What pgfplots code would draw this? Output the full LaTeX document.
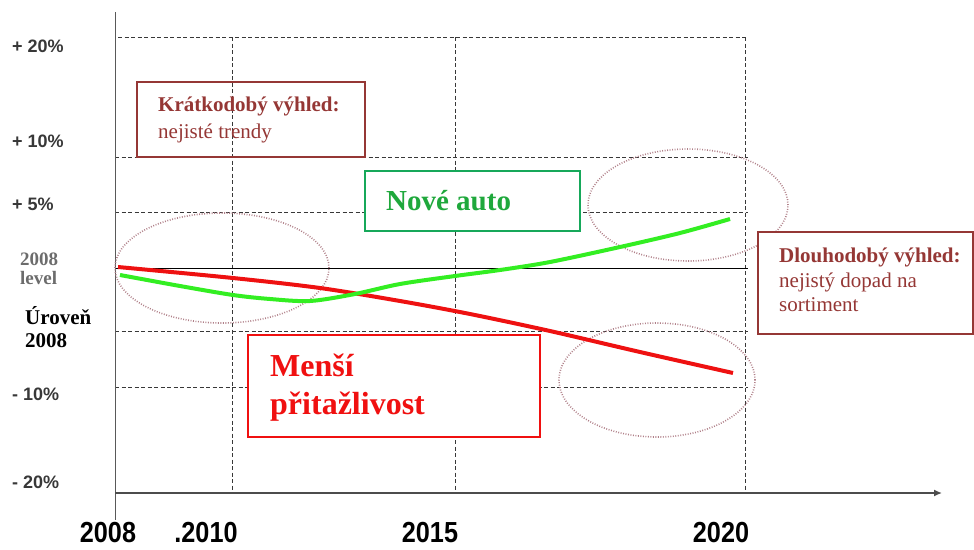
\documentclass[border=0pt]{standalone}
\usepackage{pgfplots}
\pgfplotsset{compat=1.18}
\usepackage{fontspec}
\setmainfont{Liberation Serif}
\newfontfamily\arial{Liberation Sans}
\usetikzlibrary{arrows.meta}
\definecolor{dred}{HTML}{953735}
\definecolor{gtext}{HTML}{1FA83C}
\definecolor{gbox}{HTML}{16A85A}
\definecolor{gline}{HTML}{33EE22}
\definecolor{rline}{HTML}{EE1111}
\definecolor{rtext}{HTML}{F01010}
\definecolor{ell}{HTML}{B08089}
\definecolor{grid}{HTML}{383838}
\begin{document}
\begin{tikzpicture}
\begin{axis}[scale only axis, width=974pt, height=549pt,
  xmin=0, xmax=974, ymin=0, ymax=549, y dir=reverse,
  axis lines=none, ticks=none, clip=false]
\coordinate (bl) at (axis cs:0,549);
\coordinate (tr) at (axis cs:974,0);
% grid
\begin{scope}[grid, line width=1pt, dash pattern=on 4pt off 2.5pt]
\draw (axis cs:118,37) -- (axis cs:748,37);
\draw (axis cs:115,157) -- (axis cs:748,157);
\draw (axis cs:115,212) -- (axis cs:748,212);
\draw (axis cs:115,331) -- (axis cs:748,331);
\draw (axis cs:115,387) -- (axis cs:748,387);
\draw (axis cs:232,37) -- (axis cs:232,493);
\draw (axis cs:455,37) -- (axis cs:455,493);
\draw (axis cs:745,37) -- (axis cs:745,493);
\end{scope}
\draw[black, line width=0.9pt] (axis cs:115,268) -- (axis cs:748,268);
% axes
\draw[gray!70!black, line width=1pt] (axis cs:115,12) -- (axis cs:115,520);
\draw[gray!60!black, line width=1.4pt, -{Latex[length=8pt,width=7pt]}] (axis cs:115,493) -- (axis cs:942,493);
% ellipses
\begin{scope}[ell, line width=1.6pt, dash pattern=on 0.9pt off 1.6pt]
\draw (axis cs:222,268) ellipse [x radius=107pt, y radius=55pt];
\draw (axis cs:688,205) ellipse [x radius=100pt, y radius=56pt];
\draw (axis cs:657,380) ellipse [x radius=98pt, y radius=57pt];
\end{scope}
% lines
\addplot[rline, line width=4pt, smooth] coordinates {(118,267) (233,278) (320,288) (400,301) (470,314) (550,331) (640,352) (733,373)};
\addplot[gline, line width=4pt, smooth] coordinates {(120,275) (180,286) (233,295) (270,299) (310,301) (355,294) (400,284) (455,276) (500,270) (550,262) (620,247) (680,233) (730,219)};
% boxes
\begin{scope}[every node/.style={inner sep=0pt, anchor=base west}]
\draw[dred, line width=1.2pt] (axis cs:137,82) rectangle (axis cs:365,157);
\node[dred, font=\fontsize{21}{23}\selectfont\bfseries] at (axis cs:158,111) {Krátkodobý výhled:};
\node[dred, font=\fontsize{21}{23}\selectfont] at (axis cs:158,138) {nejisté trendy};
\draw[gbox, line width=1.5pt, fill=white] (axis cs:365,171) rectangle (axis cs:580,231);
\node[gtext, font=\fontsize{29}{31}\selectfont\bfseries] at (axis cs:386,210) {Nové auto};
\draw[dred, line width=1.2pt, fill=white] (axis cs:758,232) rectangle (axis cs:973,334);
\node[dred, font=\fontsize{21}{23}\selectfont\bfseries] at (axis cs:779,262) {Dlouhodobý výhled:};
\node[dred, font=\fontsize{21}{23}\selectfont] at (axis cs:779,287) {nejistý dopad na};
\node[dred, font=\fontsize{21}{23}\selectfont] at (axis cs:779,311) {sortiment};
\draw[rtext, line width=1.5pt, fill=white] (axis cs:248,335) rectangle (axis cs:540,437);
\node[rtext, font=\fontsize{32}{34}\selectfont\bfseries] at (axis cs:270,376) {Menší};
\node[rtext, font=\fontsize{32}{34}\selectfont\bfseries] at (axis cs:270,414) {přitažlivost};
% y labels
\begin{scope}[every node/.style={inner sep=0pt, anchor=base west, text=grid, font=\arial\fontsize{18}{20}\selectfont\bfseries}]
\node at (axis cs:12,52) {+ 20\%};
\node at (axis cs:12,147) {+ 10\%};
\node at (axis cs:12,210) {+ 5\%};
\node at (axis cs:12,400) {- 10\%};
\node at (axis cs:12,488) {- 20\%};
\end{scope}
\node[text=gray!85!black, font=\fontsize{19}{21}\selectfont\bfseries] at (axis cs:20,265) {2008};
\node[text=gray!85!black, font=\fontsize{19}{21}\selectfont\bfseries] at (axis cs:20,284) {level};
\node[font=\fontsize{21}{23}\selectfont\bfseries] at (axis cs:25,324) {Úroveň};
\node[font=\fontsize{21}{23}\selectfont\bfseries] at (axis cs:25,347) {2008};
\end{scope}
% x labels
\begin{scope}[every node/.style={inner sep=0pt, anchor=base, font=\arial\fontsize{29}{31}\selectfont\bfseries}]
\node at (axis cs:108,542) {\scalebox{0.87}[1]{2008}};
\node at (axis cs:206,542) {\scalebox{0.87}[1]{.2010}};
\node at (axis cs:430,542) {\scalebox{0.87}[1]{2015}};
\node at (axis cs:721,542) {\scalebox{0.87}[1]{2020}};
\end{scope}
\end{axis}
\pgfresetboundingbox
\useasboundingbox (bl) rectangle (tr);
\end{tikzpicture}
\end{document}
